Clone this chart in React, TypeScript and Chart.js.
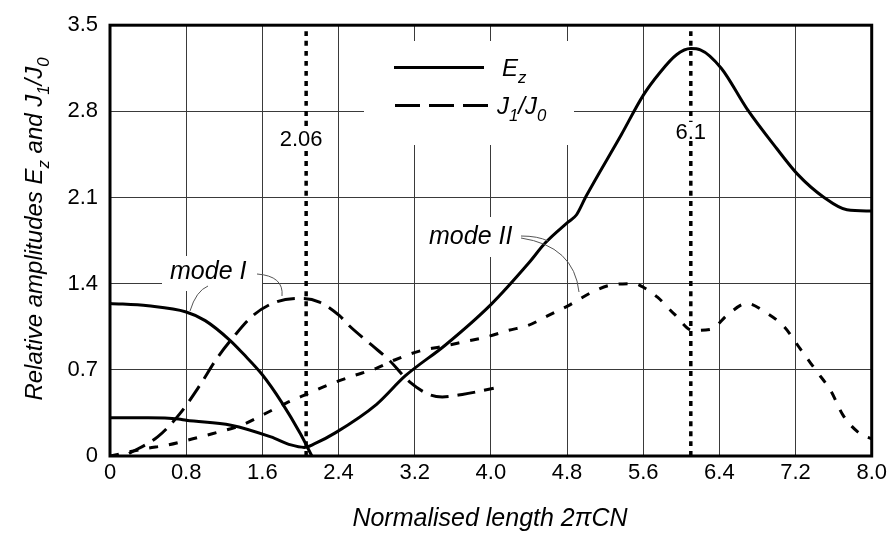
import React, { useEffect, useRef } from 'react';
import { Chart, registerables } from 'chart.js';

Chart.register(...registerables);

// ---------- axis ticks ----------
const xTickValues = [0, 0.8, 1.6, 2.4, 3.2, 4.0, 4.8, 5.6, 6.4, 7.2, 8.0];
const xTickLabels = ['0', '0.8', '1.6', '2.4', '3.2', '4.0', '4.8', '5.6', '6.4', '7.2', '8.0'];
const yTickValues = [0, 0.7, 1.4, 2.1, 2.8, 3.5];
const yTickLabels = ['0', '0.7', '1.4', '2.1', '2.8', '3.5'];

// ---------- series ----------
// E_z, mode I (solid, starting at 1.24)
const ezModeIX = [0, 0.4, 0.8, 1.0, 1.26, 1.4, 1.6, 1.8, 2.0, 2.12];
const ezModeIY = [1.24, 1.22, 1.17, 1.1, 0.94, 0.83, 0.66, 0.44, 0.18, 0.0];

// E_z, mode II (solid, starting at 0.31, rising to peak at 6.1)
const ezModeIIX = [0, 0.4, 0.72, 0.8, 1.27, 1.69, 1.9, 2.04, 2.15, 2.37, 2.8, 3.1, 3.52, 4.0, 4.4, 4.57, 4.81, 4.9, 5.0, 5.37, 5.6, 5.77, 5.95, 6.1, 6.2, 6.42, 6.69, 7.0, 7.22, 7.5, 7.74, 8.0];
const ezModeIIY = [0.31, 0.31, 0.30, 0.29, 0.25, 0.155, 0.09, 0.07, 0.1, 0.19, 0.42, 0.65, 0.9, 1.23, 1.57, 1.73, 1.9, 1.96, 2.11, 2.61, 2.93, 3.11, 3.26, 3.31, 3.3, 3.15, 2.82, 2.5, 2.29, 2.1, 2.0, 1.99];

// J1/J0, mode I (long dashes)
const jModeIX = [0.2, 0.5, 0.73, 0.94, 1.12, 1.3, 1.5, 1.74, 2.02, 2.2, 2.41, 2.51, 2.75, 2.93, 3.15, 3.35, 3.49, 3.7, 4.03];
const jModeIY = [0.02, 0.155, 0.34, 0.57, 0.79, 0.97, 1.14, 1.25, 1.28, 1.25, 1.14, 1.06, 0.9, 0.78, 0.6, 0.5, 0.48, 0.5, 0.55];

// J1/J0, mode II (short dashes)
const jModeIIX = [0, 0.37, 0.61, 0.87, 1.12, 1.38, 1.62, 1.85, 2.09, 2.3, 2.55, 2.79, 2.99, 3.24, 3.49, 3.73, 3.97, 4.18, 4.39, 4.6, 4.81, 5.06, 5.27, 5.51, 5.58, 5.75, 5.93, 6.12, 6.31, 6.49, 6.69, 6.88, 7.08, 7.25, 7.41, 7.57, 7.7, 7.88, 8.0];
const jModeIIY = [0, 0.06, 0.09, 0.14, 0.19, 0.25, 0.34, 0.43, 0.51, 0.58, 0.65, 0.71, 0.78, 0.85, 0.89, 0.93, 0.97, 1.02, 1.06, 1.14, 1.22, 1.33, 1.39, 1.4, 1.38, 1.29, 1.15, 1.02, 1.03, 1.15, 1.24, 1.17, 1.05, 0.87, 0.7, 0.53, 0.33, 0.18, 0.14];

// vertical markers
const markerXs = [2.06, 6.1];
const markerLabels = ['2.06', '6.1'];
const markerTop = 3.45;

const FONT = "'Liberation Sans', Arial, Helvetica, sans-serif";

type Part = { t: string; sub?: boolean };

function richWidth(ctx: CanvasRenderingContext2D, parts: Part[], size: number, italic: boolean) {
  let w = 0;
  for (const p of parts) {
    const s = p.sub ? size * 0.7 : size;
    ctx.font = `${italic ? 'italic ' : ''}${s}px ${FONT}`;
    w += ctx.measureText(p.t).width;
  }
  return w;
}

function drawRich(ctx: CanvasRenderingContext2D, parts: Part[], x: number, y: number, size: number, italic: boolean) {
  let cx = x;
  ctx.textBaseline = 'alphabetic';
  ctx.textAlign = 'left';
  for (const p of parts) {
    const s = p.sub ? size * 0.7 : size;
    ctx.font = `${italic ? 'italic ' : ''}${s}px ${FONT}`;
    ctx.fillText(p.t, cx, p.sub ? y + size * 0.28 : y);
    cx += ctx.measureText(p.t).width;
  }
}

const decorPlugin = {
  id: 'decor',
  beforeDatasetsDraw(chart: any) {
    const ctx = chart.ctx as CanvasRenderingContext2D;
    ctx.save();
    ctx.fillStyle = '#fff';
    // legend box
    ctx.fillRect(364, 41, 210, 104);
    // mode I label box
    ctx.fillRect(162, 256, 100, 35);
    // mode II label box
    ctx.fillRect(425, 217, 110, 40);
    ctx.restore();
  },
  afterDatasetsDraw(chart: any) {
    const ctx = chart.ctx as CanvasRenderingContext2D;
    const xs = chart.scales.x;
    ctx.save();
    // marker labels
    ctx.font = `22px ${FONT}`;
    ctx.textAlign = 'center';
    ctx.textBaseline = 'alphabetic';
    const labelPos = [
      { dx: -5, y: 146 },
      { dx: 0, y: 139 },
    ];
    markerXs.forEach((mx, i) => {
      const px = xs.getPixelForValue(mx) + labelPos[i].dx;
      const w = ctx.measureText(markerLabels[i]).width;
      ctx.fillStyle = '#fff';
      ctx.fillRect(px - w / 2 - 1, labelPos[i].y - 17, w + 2, 19);
      ctx.fillStyle = '#000';
      ctx.fillText(markerLabels[i], px, labelPos[i].y);
    });

    // frame
    const a = chart.chartArea;
    ctx.lineWidth = 3;
    ctx.strokeStyle = '#000';
    ctx.setLineDash([]);
    ctx.strokeRect(a.left, a.top, a.right - a.left, a.bottom - a.top);

    // legend
    ctx.lineWidth = 3;
    ctx.beginPath();
    ctx.moveTo(394, 67.5);
    ctx.lineTo(484, 67.5);
    ctx.stroke();
    ctx.setLineDash([25, 9]);
    ctx.beginPath();
    ctx.moveTo(395, 105.5);
    ctx.lineTo(488, 105.5);
    ctx.stroke();
    ctx.setLineDash([]);
    ctx.fillStyle = '#000';
    drawRich(ctx, [{ t: 'E' }, { t: 'z', sub: true }], 502, 76, 24, true);
    drawRich(ctx, [{ t: 'J' }, { t: '1', sub: true }, { t: '/J' }, { t: '0', sub: true }], 497, 114, 24, true);

    // annotations
    ctx.font = `italic 25px ${FONT}`;
    ctx.fillText('mode I', 170, 279);
    ctx.fillText('mode II', 429, 244);

    ctx.strokeStyle = '#555';
    ctx.lineWidth = 1;
    // mode I leaders
    ctx.beginPath();
    ctx.moveTo(208, 286);
    ctx.quadraticCurveTo(196, 291, 190, 311);
    ctx.stroke();
    ctx.beginPath();
    ctx.moveTo(257, 274);
    ctx.quadraticCurveTo(284, 276, 282, 296);
    ctx.stroke();
    // mode II leaders
    ctx.beginPath();
    ctx.moveTo(521, 236);
    ctx.quadraticCurveTo(538, 236, 548, 241);
    ctx.stroke();
    ctx.beginPath();
    ctx.moveTo(521, 238);
    ctx.quadraticCurveTo(574, 246, 579, 292);
    ctx.stroke();

    // axis titles
    ctx.fillStyle = '#000';
    const xt: Part[] = [{ t: 'Normalised length 2' }, { t: 'π' }, { t: 'CN' }];
    const xw = richWidth(ctx, xt, 25, true);
    drawRich(ctx, xt, 490 - xw / 2, 526, 25, true);

    const yt: Part[] = [
      { t: 'Relative amplitudes E' }, { t: 'z', sub: true }, { t: ' and J' }, { t: '1', sub: true }, { t: '/J' }, { t: '0', sub: true },
    ];
    const yw = richWidth(ctx, yt, 24, true);
    ctx.translate(42, 229);
    ctx.rotate(-Math.PI / 2);
    drawRich(ctx, yt, -yw / 2, 0, 24, true);
    ctx.restore();
  },
};

function pts(xs: number[], ys: number[]) {
  return xs.map((x, i) => ({ x, y: ys[i] }));
}

export default function App() {
  const ref = useRef<HTMLCanvasElement | null>(null);

  useEffect(() => {
    if (!ref.current) return;
    const common = {
      pointRadius: 0,
      pointHoverRadius: 0,
      fill: false,
      borderColor: '#000',
      borderWidth: 3,
      cubicInterpolationMode: 'monotone' as const,
    };
    const chart = new Chart(ref.current, {
      type: 'line',
      data: {
        datasets: [
          { ...common, label: 'Ez mode I', data: pts(ezModeIX, ezModeIY) },
          { ...common, label: 'Ez mode II', data: pts(ezModeIIX, ezModeIIY) },
          { ...common, label: 'J1/J0 mode I', data: pts(jModeIX, jModeIY), borderDash: [18, 9] },
          { ...common, label: 'J1/J0 mode II', data: pts(jModeIIX, jModeIIY), borderDash: [9, 11] },
          ...markerXs.map((mx) => ({
            ...common,
            label: 'marker ' + mx,
            data: [{ x: mx, y: 0 }, { x: mx, y: markerTop }],
            borderWidth: 3.5,
            borderDash: [5, 5],
          })),
        ],
      },
      options: {
        responsive: false,
        animation: false,
        events: [],
        layout: { padding: { top: 17, right: 16, left: 0, bottom: 0 } },
        plugins: {
          legend: { display: false },
          tooltip: { enabled: false },
          title: { display: false },
        },
        scales: {
          x: {
            type: 'linear',
            min: 0,
            max: 8,
            afterBuildTicks: (s: any) => {
              s.ticks = xTickValues.map((v) => ({ value: v }));
            },
            afterFit: (s: any) => {
              s.height = 77;
            },
            ticks: {
              autoSkip: false,
              maxRotation: 0,
              padding: 4,
              color: '#000',
              font: { family: FONT, size: 22 },
              callback: (_v: any, i: number) => xTickLabels[i],
            },
            grid: { color: '#3a3a3a', lineWidth: 1, drawTicks: false },
            border: { display: false },
          },
          y: {
            type: 'linear',
            min: 0,
            max: 3.5,
            afterBuildTicks: (s: any) => {
              s.ticks = yTickValues.map((v) => ({ value: v }));
            },
            afterFit: (s: any) => {
              s.width = 110;
            },
            ticks: {
              autoSkip: false,
              padding: 12,
              color: '#000',
              font: { family: FONT, size: 22 },
              callback: (_v: any, i: number) => yTickLabels[i],
            },
            grid: { color: '#3a3a3a', lineWidth: 1, drawTicks: false },
            border: { display: false },
          },
        },
      },
      plugins: [decorPlugin],
    } as any);
    return () => chart.destroy();
  }, []);

  return (
    <div style={{ position: 'absolute', left: 0, top: 0, width: 891, height: 533, background: '#fff' }}>
      <canvas ref={ref} width={891} height={533} />
    </div>
  );
}
